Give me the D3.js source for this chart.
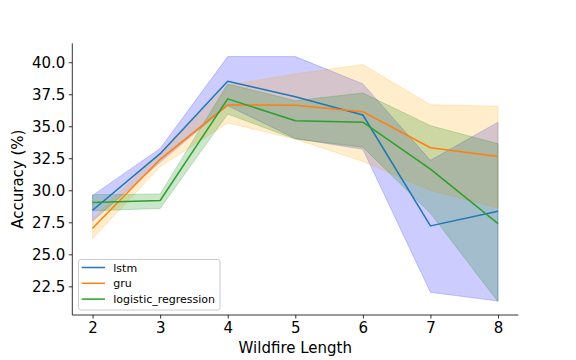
<!DOCTYPE html>
<html><head><meta charset="utf-8">
<script src="https://cdn.jsdelivr.net/npm/d3@7"></script>
<style>body{margin:0;background:#fff}svg{display:block}text{font-family:"DejaVu Sans",sans-serif}</style>
</head><body><svg id="c" width="576" height="360"></svg>
<script>
const lengths = [2, 3, 4, 5, 6, 7, 8];
const seriesNames = ["lstm", "gru", "logistic_regression"];
const lstmMean  = [28.44, 32.86, 38.52, 37.30, 35.88, 27.22, 28.37];
const lstmUpper = [29.60, 33.27, 40.44, 40.44, 38.31, 32.34, 35.32];
const lstmLower = [27.60, 32.20, 36.60, 34.05, 33.20, 22.03, 21.35];
const gruMean   = [27.04, 32.42, 36.67, 36.64, 36.14, 33.32, 32.63];
const gruUpper  = [27.80, 32.90, 38.20, 39.09, 39.82, 36.68, 36.56];
const gruLower  = [26.22, 31.85, 35.26, 34.00, 32.25, 30.00, 28.62];
const lrMean    = [29.04, 29.20, 37.14, 35.43, 35.32, 31.65, 27.40];
const lrUpper   = [29.66, 29.72, 38.30, 37.00, 37.60, 35.05, 33.63];
const lrLower   = [28.40, 28.58, 35.95, 34.00, 33.37, 28.20, 21.30];
const yTicks = [22.5, 25.0, 27.5, 30.0, 32.5, 35.0, 37.5, 40.0];

const lineColors = ["#1f77b4", "#ff7f0e", "#2ca02c"];
const fillColors = ["blue", "orange", "green"];
const series = [
  {name: seriesNames[0], mean: lstmMean, up: lstmUpper, lo: lstmLower},
  {name: seriesNames[1], mean: gruMean, up: gruUpper, lo: gruLower},
  {name: seriesNames[2], mean: lrMean, up: lrUpper, lo: lrLower}
];

const svg = d3.select("#c");
const L = 72.3, R = 518.3, T = 43.3, B = 315;
const x = d3.scaleLinear().domain([1.7, 8.3]).range([L, R]);
const y = d3.scaleLinear().domain([20.26, 41.48]).range([B, T]);

const fills = svg.append("g"), lines = svg.append("g");
series.forEach((s, i) => {
  const pts = lengths.map((l, k) => ({x: l, m: s.mean[k], u: s.up[k], lo: s.lo[k]}));
  fills.append("path").datum(pts)
    .attr("d", d3.area().x(d => x(d.x)).y0(d => y(d.lo)).y1(d => y(d.u)))
    .attr("fill", fillColors[i]).attr("fill-opacity", 0.2)
    .attr("stroke", fillColors[i]).attr("stroke-opacity", 0.2).attr("stroke-width", 1);
  lines.append("path").datum(pts)
    .attr("d", d3.line().x(d => x(d.x)).y(d => y(d.m)))
    .attr("fill", "none").attr("stroke", lineColors[i]).attr("stroke-width", 1.5)
    .attr("stroke-linejoin", "round");
});

const xAxis = svg.append("g").attr("transform", `translate(0,${B})`)
  .call(d3.axisBottom(x).tickValues(lengths).tickFormat(d3.format("d")).tickSize(3.5).tickPadding(3.5));
const yAxis = svg.append("g").attr("transform", `translate(${L},0)`)
  .call(d3.axisLeft(y).tickValues(yTicks).tickFormat(d3.format(".1f")).tickSize(3.5).tickPadding(3.5));
[xAxis, yAxis].forEach(a => {
  a.select(".domain").remove();
  a.selectAll(".tick line").attr("stroke", "#000").attr("stroke-width", 0.8);
  a.selectAll(".tick text").attr("font-size", 15).attr("fill", "#000")
    .attr("font-family", "DejaVu Sans");
});
svg.append("line").attr("x1", L).attr("x2", R).attr("y1", B).attr("y2", B)
  .attr("stroke", "#000").attr("stroke-width", 0.8);
svg.append("line").attr("x1", L).attr("x2", L).attr("y1", T).attr("y2", B)
  .attr("stroke", "#000").attr("stroke-width", 0.8);

svg.append("text").attr("x", (L + R) / 2).attr("y", 353).attr("text-anchor", "middle")
  .attr("font-size", 15).text("Wildfire Length");
svg.append("text").attr("transform", `translate(23,${(T + B) / 2}) rotate(-90)`)
  .attr("text-anchor", "middle").attr("font-size", 15).text("Accuracy (%)");

const leg = svg.append("g");
leg.append("rect").attr("x", 78.5).attr("y", 259.5).attr("width", 141.5).attr("height", 50.5)
  .attr("rx", 2.5).attr("fill", "#fff").attr("fill-opacity", 0.8)
  .attr("stroke", "#ccc").attr("stroke-width", 1);
series.forEach((s, i) => {
  const yy = 267.5 + i * 15.8;
  leg.append("line").attr("x1", 81.7).attr("x2", 105).attr("y1", yy).attr("y2", yy)
    .attr("stroke", lineColors[i]).attr("stroke-width", 1.5);
  leg.append("text").attr("x", 113.3).attr("y", yy + 4).attr("font-size", 11).text(s.name);
});
</script></body></html>
